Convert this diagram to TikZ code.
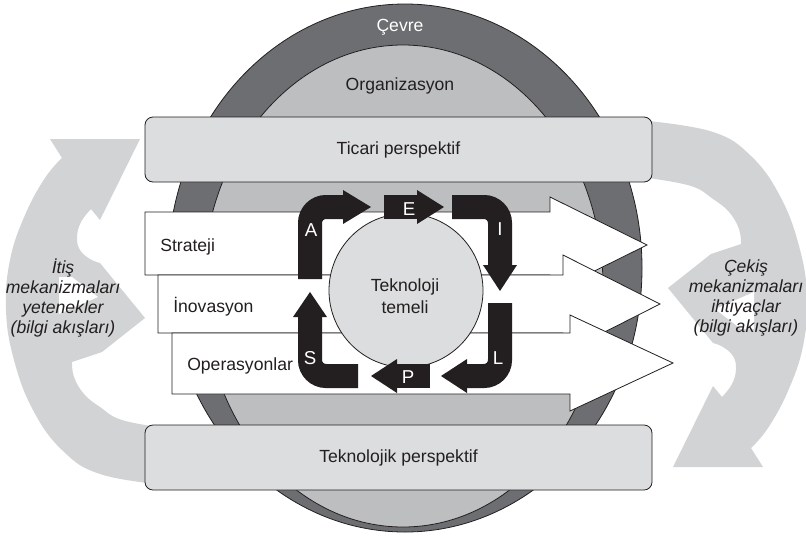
\documentclass[tikz,border=0pt]{standalone}
\usepackage{fontspec}
\setmainfont{Liberation Sans}
\definecolor{ring}{HTML}{6D6E71}
\definecolor{org}{HTML}{BCBEC0}
\definecolor{boxg}{HTML}{DCDDDE}
\definecolor{side}{HTML}{D1D3D4}
\definecolor{ink}{HTML}{231F20}
\begin{document}
\begin{tikzpicture}[x=0.75pt,y=-0.75pt,
  every node/.style={text=ink, font=\fontsize{13.2}{16.5}\selectfont, inner sep=0pt},
  outl/.style={draw=ink, line width=0.6pt},
  persp/.style={outl, fill=boxg, rounded corners=6pt, minimum width=380.25pt, minimum height=48.75pt},
  warrow/.style={outl, fill=white},
  blk/.style={draw=ink, line width=18pt, rounded corners=12pt},
  blkhead/.style={fill=ink},
  lbl/.style={text=white, font=\fontsize{14}{16}\selectfont},
  sidetxt/.style={font=\itshape\fontsize{13.2}{15}\selectfont, align=center},
  sidearrow/.pic={
    \fill[side] plot[smooth, tension=0.7] coordinates {(165,485) (100,474) (62,450) (33,410) (14,360) (6,310) (10,260) (25,215) (45,178) (62,158)}
      -- (50,139) -- (140,139) -- (100,220) -- (91,209)
      -- plot[smooth, tension=0.7] coordinates {(91,209) (81,222) (77,237) (80,250) (90,259) (100,263)}
      -- (145,318) -- (102,352) -- (72,362)
      -- plot[smooth, tension=0.7] coordinates {(72,362) (74,377) (84,394) (100,407) (122,420) (165,428)}
      -- cycle;
    \fill[white] (59,277) -- (72,277) -- (98,297) -- (59,314) -- cycle;
  }
]
\useasboundingbox (0,0) rectangle (806,536);

% environment and organisation
\draw[outl, fill=ring] (405,268) ellipse [x radius=177.75pt, y radius=198pt];
\draw[outl, fill=org] (403,286) ellipse [x radius=150pt, y radius=180.75pt];
\node[text=white] (cevre) at (400,27) {Çevre};
\node (orgtxt) at (400,86) {Organizasyon};

% push / pull arrows
\pic (push) at (0,0) {sidearrow};
\pic[rotate=180] (pull) at (813,606) {sidearrow};

% perspectives
\node[persp] (ticari) at (398.5,149.5) {Ticari perspektif};
\node[persp] (teknolojik) at (398.5,457.5) {Teknolojik perspektif};

% white arrows
\draw[warrow] (145,212) -- (550,212) -- (550,197) -- (647,245) -- (550,293) -- (550,275) -- (145,275) -- cycle;
\draw[warrow] (158,275) -- (563,275) -- (563,255) -- (660,304) -- (563,353) -- (563,333) -- (158,333) -- cycle;
\draw[warrow] (172,333) -- (570,333) -- (570,315) -- (673,363) -- (570,411) -- (570,394) -- (172,394) -- cycle;
\node[anchor=west] (strateji) at (160,247) {Strateji};
\node[anchor=west] (inovasyon) at (173,307) {İnovasyon};
\node[anchor=west] (operasyonlar) at (187,366) {Operasyonlar};

% technology base
\node[circle, outl, fill=boxg, minimum size=115.5pt] (temel) at (406,290.5) {};
\node[align=center] (temeltxt) at (405,296) {Teknoloji\\temeli};

% black cycle arrows
\draw[blk] (310,279) -- (310,207) -- (343,207);
\fill[blkhead] (343,190) -- (371,207) -- (343,224) -- cycle;
\draw[blk] (384,207) -- (417,207);
\fill[blkhead] (417,190) -- (444,207) -- (417,224) -- cycle;
\draw[blk] (452,207) -- (500,207) -- (500,265);
\fill[blkhead] (483,265) -- (500,291) -- (517,265) -- cycle;
\draw[blk] (500,303) -- (500,376) -- (467,376);
\fill[blkhead] (467,359) -- (441,376) -- (467,393) -- cycle;
\draw[blk] (430,376) -- (397,376);
\fill[blkhead] (397,359) -- (371,376) -- (397,393) -- cycle;
\draw[blk] (358,376) -- (310,376) -- (310,317);
\fill[blkhead] (293,317) -- (310,292) -- (327,317) -- cycle;
\node[lbl] (la) at (311,230) {A};
\node[lbl] (le) at (409,209) {E};
\node[lbl] (li) at (500,229) {I};
\node[lbl] (ll) at (498,358) {L};
\node[lbl] (lp) at (408,377) {P};
\node[lbl] (ls) at (310,358) {S};

% side texts
\node[sidetxt] (itis) at (63,298) {İtiş\\mekanizmaları\\yetenekler\\(bilgi akışları)};
\node[sidetxt] (cekis) at (746,298) {Çekiş\\mekanizmaları\\ihtiyaçlar\\(bilgi akışları)};
\end{tikzpicture}
\end{document}
